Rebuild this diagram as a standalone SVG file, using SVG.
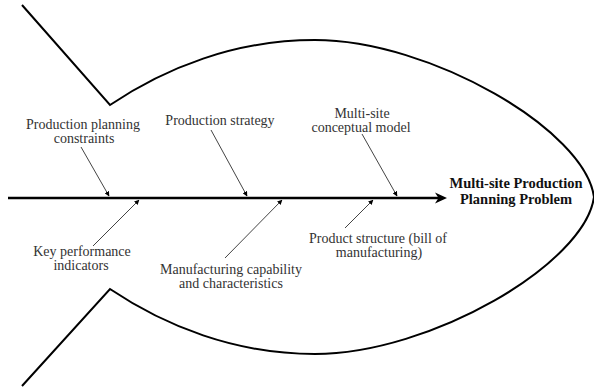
<svg xmlns="http://www.w3.org/2000/svg" width="594" height="387" viewBox="0 0 594 387">
<style>
.lbl{font-family:"Liberation Serif","DejaVu Serif","Times New Roman",serif;font-size:14px;fill:#333;text-anchor:middle}
.ttl{font-family:"Liberation Serif","DejaVu Serif","Times New Roman",serif;font-size:14.5px;font-weight:bold;fill:#111;text-anchor:middle}
.br{stroke:#444;stroke-width:1;fill:none;marker-end:url(#sm)}
</style>
<defs>
<marker id="sm" viewBox="0 0 10 10" refX="9" refY="5" markerWidth="5" markerHeight="5" orient="auto" markerUnits="userSpaceOnUse">
<path d="M0,0 L10,5 L0,10 z" fill="#000"/>
</marker>
</defs>
<rect width="594" height="387" fill="#fff"/>
<g id="fish">
<path d="M22,5 L110,105 C165,68 235,40 315,40 C430,40 585,130 594,197 C585,264 430,354 315,354 C235,354 165,326 110,289 L22,386" fill="none" stroke="#000" stroke-width="2"/>
</g>
<g id="connectors">
<line x1="8" y1="198" x2="440" y2="198" stroke="#000" stroke-width="2.5"/>
<path d="M447,198 L435,192.5 L438.5,198 L435,203.5 z" fill="#000"/>
<line class="br" x1="81" y1="147" x2="109" y2="196"/>
<line class="br" x1="211" y1="130" x2="247" y2="196"/>
<line class="br" x1="362" y1="134" x2="397" y2="196"/>
<line class="br" x1="93" y1="246" x2="139" y2="200"/>
<line class="br" x1="225" y1="258" x2="282" y2="200"/>
<line class="br" x1="345" y1="228" x2="373" y2="200"/>
</g>
<g id="n-ppc"><text class="lbl" x="83" y="129">Production planning</text><text class="lbl" x="84" y="143">constraints</text></g>
<g id="n-ps"><text class="lbl" x="220" y="125">Production strategy</text></g>
<g id="n-mcm"><text class="lbl" x="362" y="118">Multi-site</text><text class="lbl" x="361" y="132">conceptual model</text></g>
<g id="n-title"><text class="ttl" x="516" y="188">Multi-site Production</text><text class="ttl" x="516" y="204">Planning Problem</text></g>
<g id="n-kpi"><text class="lbl" x="82" y="256">Key performance</text><text class="lbl" x="81" y="270">indicators</text></g>
<g id="n-mc"><text class="lbl" x="231" y="274">Manufacturing capability</text><text class="lbl" x="231" y="288">and characteristics</text></g>
<g id="n-pstr"><text class="lbl" x="378" y="243">Product structure (bill of</text><text class="lbl" x="379" y="257">manufacturing)</text></g>
</svg>
